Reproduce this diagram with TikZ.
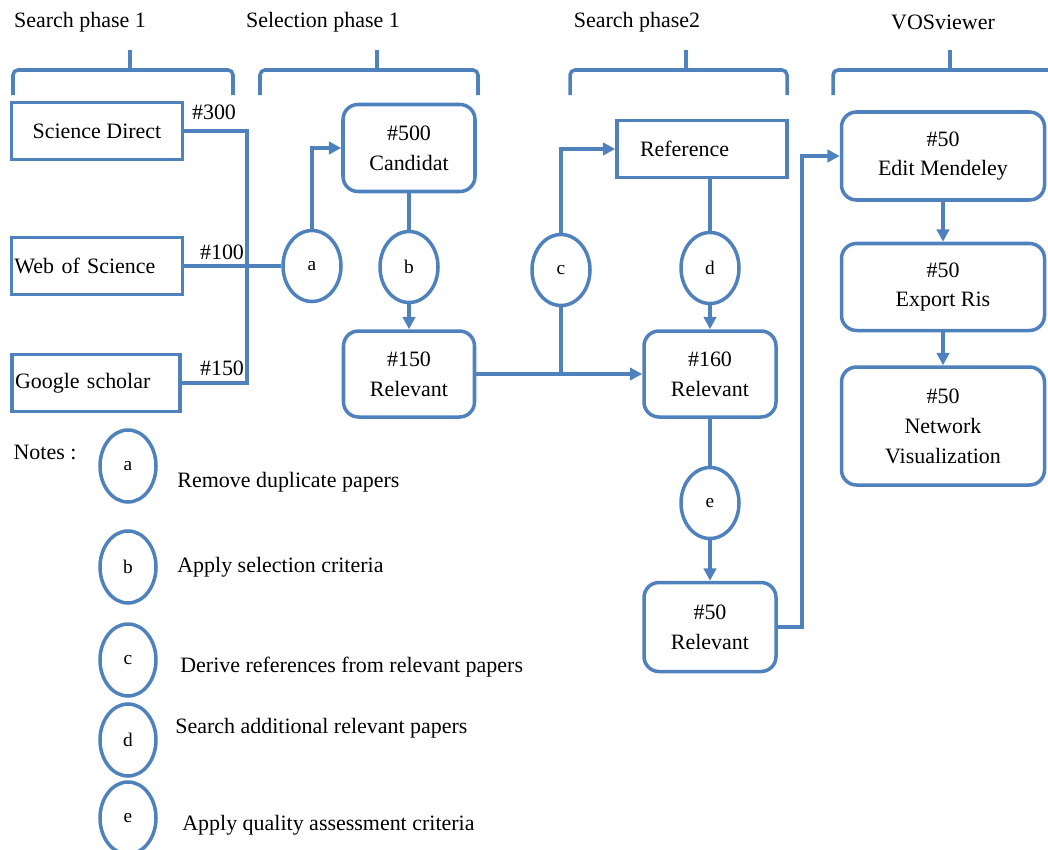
\documentclass[tikz,border=0pt]{standalone}
\usepackage{fontspec}
\setmainfont{LiberationSerif}[Extension=.ttf, UprightFont=*-Regular, BoldFont=*-Bold, ItalicFont=*-Italic, BoldItalicFont=*-BoldItalic]
\usetikzlibrary{arrows.meta,shapes.geometric}
\newcommand{\PX}{0.02cm}
\newcommand{\flowfont}{\rmfamily\fontsize{12.5}{17}\selectfont}
\newcommand{\letterfont}{\rmfamily\fontsize{11}{13}\selectfont}
\definecolor{flowblue}{RGB}{79,129,189}

\begin{document}
\begin{tikzpicture}[
    x=\PX, y=-\PX,
    >={Triangle[length=7pt,width=7pt]},
    wire/.style={draw=flowblue, line width=2pt},
    src/.style={rectangle, draw=flowblue, line width=2pt, minimum height=57*\PX, font=\flowfont},
    rbox/.style={rectangle, draw=flowblue, line width=2pt, rounded corners=0.3cm, align=center, font=\flowfont},
    oval/.style={ellipse, draw=flowblue, line width=2pt, minimum width=58*\PX, minimum height=71*\PX, inner sep=0pt, font=\letterfont},
    noteoval/.style={oval, minimum width=56*\PX, minimum height=72*\PX},
    brace/.style={draw=flowblue, line width=2pt, rounded corners=5*\PX},
    tag/.style={font=\flowfont},
  ]
  \useasboundingbox (0,0) rectangle (1048,849);

  %% phase headings and their braces
  \node[tag] (h1) at (80,22)  {Search phase 1};
  \node[tag] (h2) at (323,22) {Selection phase 1};
  \node[tag] (h3) at (637,22) {Search phase2};
  \node[tag] (h4) at (943,22) {VOSviewer};
  \foreach \l/\r/\m in {13/233/130, 260/478/377, 570/787/686, 833/1066/950} {
    \draw[brace] (\l,95) -- (\l,70) -- (\r,70) -- (\r,95);
    \draw[brace] (\m,70) -- (\m,50);
  }

  %% search phase 1: databases
  \node[src, minimum width=171*\PX] (sd) at (97,131) {Science Direct};
  \node[src, text width=165*\PX, inner xsep=3*\PX, align=left] (ws) at (97,266) {Web of Science};
  \node[src, text width=162*\PX, inner xsep=3*\PX, align=left] (gs) at (96,383) {Google scholar};
  \node[tag] (n300) at (214,112) {\#300};
  \node[tag] (n100) at (222,252) {\#100};
  \node[tag] (n150) at (222,368) {\#150};
  \coordinate (jn) at (247,266);
  \draw[wire] (sd.east) -| (jn) |- (gs.east);
  \draw[wire] (ws.east) -- (jn);

  %% selection phase 1
  \node[oval] (ca) at (312,266) {a};
  \node[rbox, minimum width=132*\PX, minimum height=87*\PX] (cand) at (409,148) {\#500\\Candidat};
  \node[oval] (cb) at (409,267) {b};
  \node[rbox, minimum width=131*\PX, minimum height=86*\PX] (r150) at (409,374) {\#150\\Relevant};
  \draw[wire] (jn) -- (ca.west);
  \draw[wire, ->] (ca.north) |- (cand.west);
  \draw[wire] (cand.south) -- (cb.north);
  \draw[wire, ->] (cb.south) -- (r150.north);

  %% search phase 2
  \node[oval] (cc) at (561,270) {c};
  \node[src, text width=124*\PX, inner xsep=23*\PX, align=left] (ref) at (702,149) {Reference};
  \node[oval] (cd) at (710,268) {d};
  \node[rbox, minimum width=132*\PX, minimum height=86*\PX] (r160) at (710,374) {\#160\\Relevant};
  \node[oval] (ce) at (710,503) {e};
  \node[rbox, minimum width=132*\PX, minimum height=89*\PX] (r50) at (710,627) {\#50\\Relevant};
  \draw[wire, ->] (r150.east) -- (r160.west);
  \draw[wire] (cc.south) -- (cc |- r150.east);
  \draw[wire, ->] (cc.north) |- (ref.west);
  \draw[wire] (cd |- ref.south) -- (cd.north);
  \draw[wire, ->] (cd.south) -- (r160.north);
  \draw[wire] (r160.south) -- (ce.north);
  \draw[wire, ->] (ce.south) -- (r50.north);

  %% VOSviewer
  \node[rbox, minimum width=203*\PX, minimum height=88*\PX] (edit) at (943,156) {\#50\\Edit Mendeley};
  \node[rbox, minimum width=203*\PX, minimum height=87*\PX] (exp) at (943,287) {\#50\\Export Ris};
  \node[rbox, minimum width=203*\PX, minimum height=118*\PX] (net) at (943,426) {\#50\\Network\\Visualization};
  \coordinate (turn) at (802,627);
  \draw[wire, ->] (r50.east) -- (turn) |- (edit.west);
  \draw[wire, ->] (edit) -- (exp);
  \draw[wire, ->] (exp) -- (net);

  %% notes
  \node[tag] (notes) at (45,452) {Notes :};
  \foreach \l/\cy/\tx/\ty/\txt in {a/466/177/482/Remove duplicate papers,
      b/567/177/567/Apply selection criteria,
      c/660/180/667/Derive references from relevant papers,
      d/740/175/728/Search additional relevant papers,
      e/818/182/825/Apply quality assessment criteria} {
    \node[noteoval] (note\l) at (128,\cy) {\l};
    \node[tag, anchor=west, inner xsep=0pt] (text\l) at (\tx,\ty) {\txt};
  }

\end{tikzpicture}
\end{document}
